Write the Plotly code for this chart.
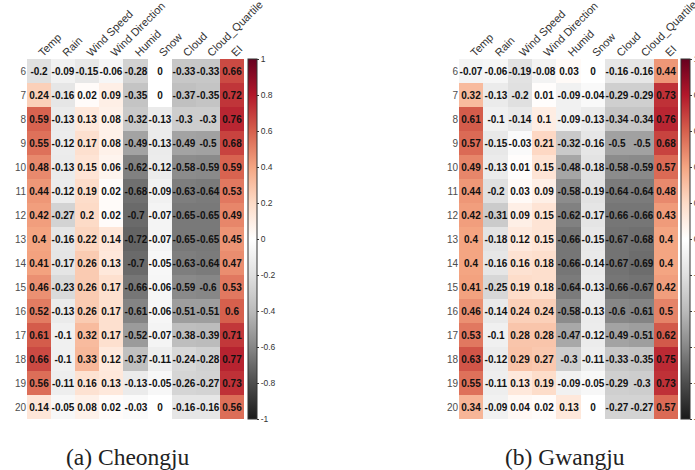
import plotly.graph_objects as go

variables = ["Temp", "Rain", "Wind Speed", "Wind Direction", "Humid", "Snow", "Cloud", "Cloud_Quartile", "EI"]
hours = list(range(6, 21))

cheongju = [
    [-0.2, -0.09, -0.15, -0.06, -0.28, 0, -0.33, -0.33, 0.66],
    [0.24, -0.16, 0.02, 0.09, -0.35, 0, -0.37, -0.35, 0.72],
    [0.59, -0.13, 0.13, 0.08, -0.32, -0.13, -0.3, -0.3, 0.76],
    [0.55, -0.12, 0.17, 0.08, -0.49, -0.13, -0.49, -0.5, 0.68],
    [0.48, -0.13, 0.15, 0.06, -0.62, -0.12, -0.58, -0.59, 0.59],
    [0.44, -0.12, 0.19, 0.02, -0.68, -0.09, -0.63, -0.64, 0.53],
    [0.42, -0.27, 0.2, 0.02, -0.7, -0.07, -0.65, -0.65, 0.49],
    [0.4, -0.16, 0.22, 0.14, -0.72, -0.07, -0.65, -0.65, 0.45],
    [0.41, -0.17, 0.26, 0.13, -0.7, -0.05, -0.63, -0.64, 0.47],
    [0.46, -0.23, 0.26, 0.17, -0.66, -0.06, -0.59, -0.6, 0.53],
    [0.52, -0.13, 0.26, 0.17, -0.61, -0.06, -0.51, -0.51, 0.6],
    [0.61, -0.1, 0.32, 0.17, -0.52, -0.07, -0.38, -0.39, 0.71],
    [0.66, -0.1, 0.33, 0.12, -0.37, -0.11, -0.24, -0.28, 0.77],
    [0.56, -0.11, 0.16, 0.13, -0.13, -0.05, -0.26, -0.27, 0.73],
    [0.14, -0.05, 0.08, 0.02, -0.03, 0, -0.16, -0.16, 0.56],
]

gwangju = [
    [-0.07, -0.06, -0.19, -0.08, 0.03, 0, -0.16, -0.16, 0.44],
    [0.32, -0.13, -0.2, 0.01, -0.09, -0.04, -0.29, -0.29, 0.73],
    [0.61, -0.1, -0.14, 0.1, -0.09, -0.13, -0.34, -0.34, 0.76],
    [0.57, -0.15, -0.03, 0.21, -0.32, -0.16, -0.5, -0.5, 0.68],
    [0.49, -0.13, 0.01, 0.15, -0.48, -0.18, -0.58, -0.59, 0.57],
    [0.44, -0.2, 0.03, 0.09, -0.58, -0.19, -0.64, -0.64, 0.48],
    [0.42, -0.31, 0.09, 0.15, -0.62, -0.17, -0.66, -0.66, 0.43],
    [0.4, -0.18, 0.12, 0.15, -0.66, -0.15, -0.67, -0.68, 0.4],
    [0.4, -0.16, 0.16, 0.18, -0.66, -0.14, -0.67, -0.69, 0.4],
    [0.41, -0.25, 0.19, 0.18, -0.64, -0.13, -0.66, -0.67, 0.42],
    [0.46, -0.14, 0.24, 0.24, -0.58, -0.13, -0.6, -0.61, 0.5],
    [0.53, -0.1, 0.28, 0.28, -0.47, -0.12, -0.49, -0.51, 0.62],
    [0.63, -0.12, 0.29, 0.27, -0.3, -0.11, -0.33, -0.35, 0.75],
    [0.55, -0.11, 0.13, 0.19, -0.09, -0.05, -0.29, -0.3, 0.73],
    [0.34, -0.09, 0.04, 0.02, 0.13, 0, -0.27, -0.27, 0.57],
]

captions = ["(a) Cheongju", "(b) Gwangju"]
cbar_ticks = [1, 0.8, 0.6, 0.4, 0.2, 0, -0.2, -0.4, -0.6, -0.8, -1]

colorscale = [
    [0.0, "#1a1a1a"], [0.1, "#4d4d4d"], [0.2, "#878787"], [0.3, "#bababa"],
    [0.4, "#e0e0e0"], [0.5, "#ffffff"], [0.6, "#fddbc7"], [0.7, "#f4a582"],
    [0.8, "#d6604d"], [0.9, "#b2182b"], [1.0, "#67001f"],
]

W, H = 695, 470
def px_x(p): return p / W
def px_y(p): return 1 - p / H

panels = [
    dict(data=cheongju, x0=27, x1=244, cb=248, cap=127.5),
    dict(data=gwangju, x0=459, x1=678, cb=681, cap=565),
]
y_top, y_bot = 59, 419

fig = go.Figure()
annotations = []
for i, p in enumerate(panels):
    ax = "" if i == 0 else str(i + 1)
    text = [[f"{v:g}" for v in row] for row in p["data"]]
    fig.add_trace(go.Heatmap(
        z=p["data"], x=variables, y=hours, text=text,
        texttemplate="<b>%{text}</b>",
        textfont=dict(family="Liberation Sans", size=10, color="#111111"),
        colorscale=colorscale, zmin=-1, zmax=1,
        xaxis="x" + ax, yaxis="y" + ax,
        colorbar=dict(
            x=px_x(p["cb"]), xanchor="left", xref="paper",
            y=px_y(y_bot), yanchor="bottom", len=(y_bot - y_top) / H, lenmode="fraction",
            thickness=9, thicknessmode="pixels",
            outlinewidth=1, outlinecolor="#333333",
            tickvals=cbar_ticks, ticktext=[f"{t:g}" for t in cbar_ticks],
            ticks="outside", ticklen=2, tickcolor="#333333",
            tickfont=dict(family="Liberation Sans", size=8.5, color="#333333"),
            xpad=0, ypad=0,
        ),
    ))
    fig.update_layout(**{
        "xaxis" + ax: dict(
            domain=[px_x(p["x0"]), px_x(p["x1"])], anchor="y" + ax, side="top",
            tickangle=-45, showgrid=False, zeroline=False, showline=False, ticks="",
            automargin=False, ticklabelstandoff=-3,
            tickfont=dict(family="Liberation Sans", size=11, color="#333333"),
        ),
        "yaxis" + ax: dict(
            domain=[px_y(y_bot), px_y(y_top)], anchor="x" + ax,
            autorange="reversed", tickvals=hours, showgrid=False, zeroline=False,
            showline=False, ticks="", automargin=False,
            tickfont=dict(family="Liberation Sans", size=10, color="#4d4d4d"),
        ),
    })
    annotations.append(dict(
        text=captions[i], x=px_x(p["cap"]), y=px_y(457), xref="paper", yref="paper",
        xanchor="center", yanchor="middle", showarrow=False,
        font=dict(family="Liberation Serif", size=23.5, color="#222222"),
    ))

fig.update_layout(
    width=W, height=H, margin=dict(l=0, r=0, t=0, b=0, autoexpand=False),
    paper_bgcolor="white", plot_bgcolor="white",
    annotations=annotations, showlegend=False,
)

fig.write_html("out.html", config={"displayModeBar": False},
               post_script="document.body.style.margin='0px';")
